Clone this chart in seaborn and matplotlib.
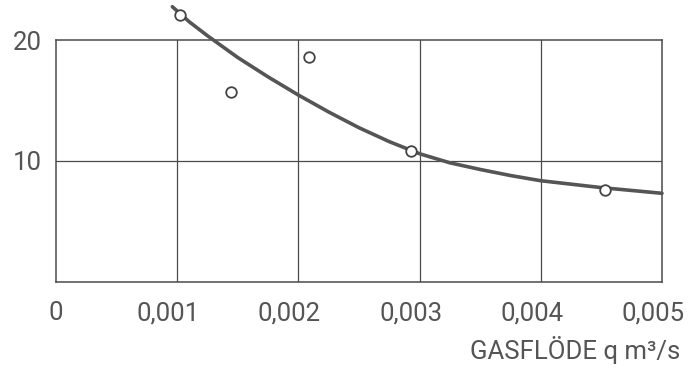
import matplotlib
matplotlib.use("Agg")
import matplotlib.pyplot as plt
import matplotlib.transforms as mtransforms
import seaborn as sns
import pandas as pd

# Measured points: gas flow q (m^3/s) vs response
meas_q = [0.00102, 0.00144, 0.00209, 0.00293, 0.00453]
meas_y = [22.1, 15.7, 18.6, 10.8, 7.6]

# Fitted curve, read as a sequence of points
curve_q = [0.00096, 0.00110, 0.00125, 0.00150, 0.00175, 0.00200, 0.00225,
           0.00250, 0.00275, 0.00300, 0.00325, 0.00350, 0.00375, 0.00400,
           0.00450, 0.00500]
curve_y = [22.75, 21.5, 20.35, 18.55, 16.95, 15.45, 14.05,
           12.75, 11.6, 10.6, 9.85, 9.3, 8.8, 8.37,
           7.8, 7.33]

x_ticks = [0, 0.001, 0.002, 0.003, 0.004, 0.005]
x_tick_labels = ["0", "0,001", "0,002", "0,003", "0,004", "0,005"]
y_ticks = [10, 20]
y_tick_labels = ["10", "20"]
x_label = "GASFLÖDE q m³/s"

sns.set_style("white")
plt.rcParams["font.family"] = ["Roboto", "DejaVu Sans"]

ink = "#4a4a4a"
text_c = "#555555"
fs = 18.5

fig = plt.figure(figsize=(6.93, 3.71), dpi=100)
ax = fig.add_axes([56 / 693, 89 / 371, 606 / 693, 242 / 371])

curve_df = pd.DataFrame({"q": curve_q, "y": curve_y})
meas_df = pd.DataFrame({"q": meas_q, "y": meas_y})

sns.lineplot(data=curve_df, x="q", y="y", ax=ax, color="#555555",
             linewidth=2.6, sort=True, estimator=None, clip_on=False, zorder=3)
sns.scatterplot(data=meas_df, x="q", y="y", ax=ax, s=58, marker="o",
                facecolor="white", edgecolor="#444444", linewidth=1.3,
                clip_on=False, zorder=4)

ax.set_xlim(0, 0.005)
ax.set_ylim(0, 20)

ax.set_xticks(x_ticks)
ax.set_xticklabels(x_tick_labels)
ax.set_yticks(y_ticks)
ax.set_yticklabels(y_tick_labels)
ax.tick_params(axis="both", length=0, labelsize=fs, colors=text_c)
ax.tick_params(axis="x", pad=14)
ax.tick_params(axis="y", pad=10)

# Nudge the decimal labels slightly left, as set on the original scale
for lbl in ax.get_xticklabels()[1:]:
    lbl.set_transform(lbl.get_transform() +
                      mtransforms.ScaledTranslation(-9 / 100, 0, fig.dpi_scale_trans))

for q in x_ticks[1:-1]:
    ax.axvline(q, color=ink, linewidth=0.9, zorder=1)
ax.axhline(10, color=ink, linewidth=0.9, zorder=1)

for side in ax.spines.values():
    side.set_visible(True)
    side.set_color(ink)
    side.set_linewidth(1.1)

ax.set_xlabel(x_label, fontsize=fs, color=text_c, ha="right", va="center")
ax.xaxis.set_label_coords((680 - 56) / 606, (282 - 350) / 242)
ax.set_ylabel("")

fig.savefig("out.png", dpi=100)
